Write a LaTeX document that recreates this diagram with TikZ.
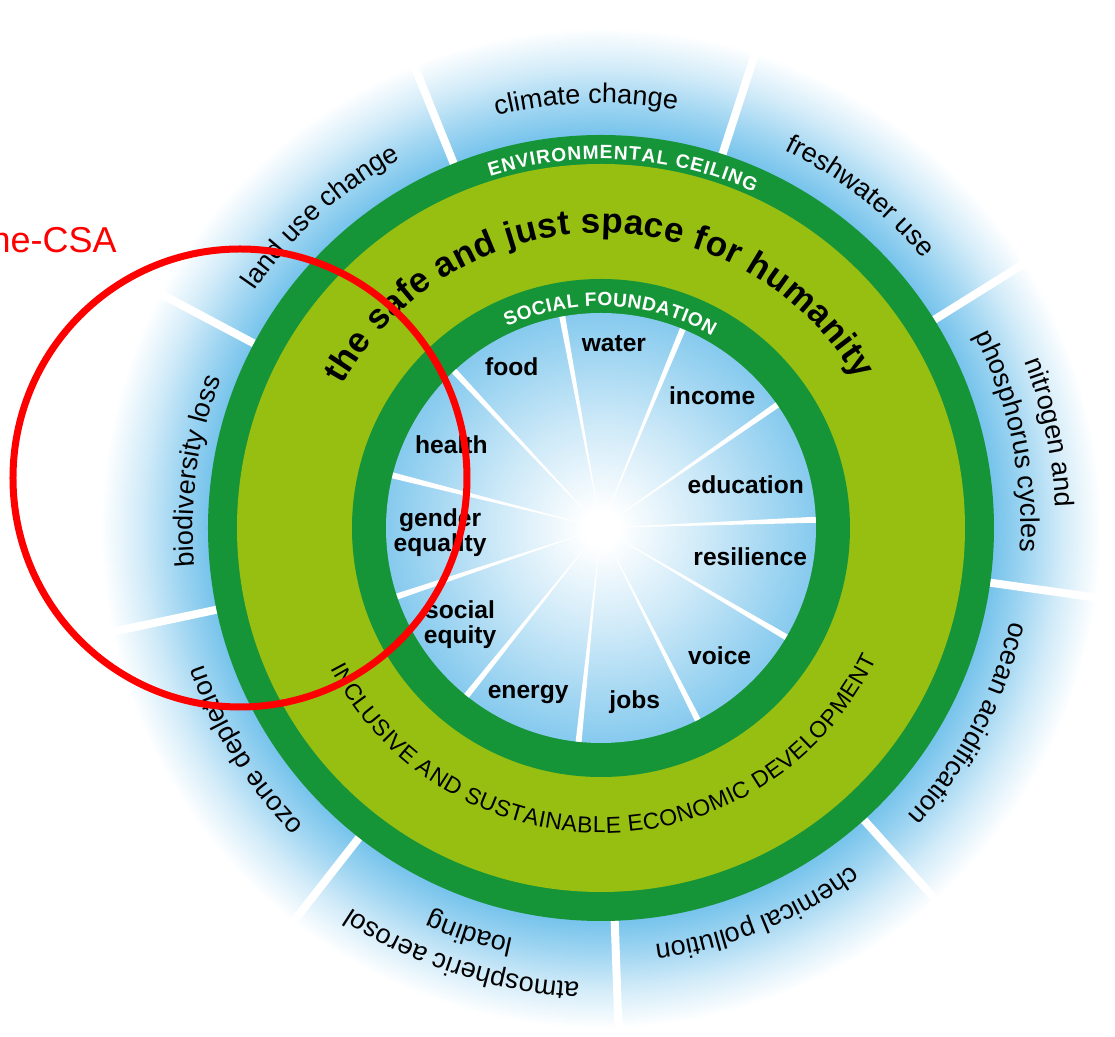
\documentclass[tikz,border=0pt]{standalone}
\usepackage{fontspec}
\setmainfont{Liberation Sans}
\usepackage{tikz}
\usetikzlibrary{decorations.text}

\definecolor{ringgreen}{RGB}{22,148,56}
\definecolor{spacelime}{RGB}{150,191,18}
\definecolor{skyblue}{RGB}{120,196,236}
\definecolor{hubblue}{RGB}{134,202,238}

\pgfdeclareradialshading{skyfade}{\pgfpointorigin}{color(0bp)=(skyblue); color(18.6bp)=(skyblue); color(20bp)=(skyblue!72!white); color(21.8bp)=(skyblue!32!white); color(23.6bp)=(white); color(50bp)=(white)}
\pgfdeclareradialshading{hubfade}{\pgfpointorigin}{color(0bp)=(white); color(2bp)=(white); color(12bp)=(hubblue!40!white); color(25bp)=(hubblue); color(50bp)=(hubblue)}

\newcommand{\boundfont}{\fontsize{13.5}{16}\selectfont}
\newcommand{\bandfont}{\fontsize{9.6}{11}\selectfont\bfseries\color{white}}
\newcommand{\titlefont}{\fontsize{17.5}{20}\selectfont\bfseries}
\newcommand{\econfont}{\fontsize{11.5}{14}\selectfont}

\begin{document}
\begin{tikzpicture}[x=0.5pt,y=0.5pt,
                    hublabel/.style={font=\fontsize{12.3}{12.5}\selectfont\bfseries, align=center, inner sep=0pt},
                    boundary/.style={decorate, decoration={text along path, text align=center, text={|\boundfont|#1}}},
                    bandtext/.style={decorate, decoration={text along path, text align=fit to path, text={|\bandfont|#1}}},
                    spoke/.style={white, line width=4pt}]
 \useasboundingbox (-601,-509) rectangle (514,528);
 \shade[shading=skyfade] (0,0) circle (530);
 \foreach \a in {112,72,...,-208} \draw[spoke] (\a:393) -- (\a:540);
 \fill[ringgreen] (0,0) circle (393);
 \fill[spacelime] (0,0) circle (364);
 \fill[ringgreen] (0,0) circle (249);
 \shade[shading=hubfade] (0,0) circle (215);
 \foreach \i [evaluate=\i as \a using 2.2+\i*360/11] in {0,...,10}
   \fill[white] (0,0) -- (\a-0.8:215) -- (\a+0.8:215) -- cycle;

 \path[boundary={climate change}] (112:425) arc[start angle=112, end angle=72, radius=425];
 \path[boundary={freshwater use}] (72:420) arc[start angle=72, end angle=32, radius=420];
 \path[boundary={nitrogen and}] (32:455) arc[start angle=32, end angle=-8, radius=455];
 \path[boundary={phosphorus cycles}] (32:420) arc[start angle=32, end angle=-8, radius=420];
 \path[boundary={ocean acidification}] (-8:420) arc[start angle=-8, end angle=-48, radius=420];
 \path[boundary={chemical pollution}] (-48:420) arc[start angle=-48, end angle=-88, radius=420];
 \path[boundary={atmospheric aerosol}] (-88:455) arc[start angle=-88, end angle=-128, radius=455];
 \path[boundary={loading}] (-88:420) arc[start angle=-88, end angle=-128, radius=420];
 \path[boundary={ozone depletion}] (-128:420) arc[start angle=-128, end angle=-168, radius=420];
 \path[boundary={biodiversity loss}] (192:408) arc[start angle=192, end angle=152, radius=408];
 \path[boundary={land use change}] (152:420) arc[start angle=152, end angle=112, radius=420];

 \path[bandtext={ENVIRONMENTAL CEILING}] (107.5:369) arc[start angle=107.5, end angle=65.5, radius=369];
 \path[bandtext={SOCIAL FOUNDATION}] (115:222) arc[start angle=115, end angle=60, radius=222];
 \path[decorate, decoration={text along path, text align=fit to path,
       text={|\titlefont|the safe and just space for humanity}}]
       (151:295) arc[start angle=151, end angle=30, radius=295];
 \path[decorate, decoration={text along path, text align=fit to path,
       text={|\econfont|INCLUSIVE AND SUSTAINABLE ECONOMIC DEVELOPMENT}}]
       (207.5:305) arc[start angle=207.5, end angle=334.5, radius=305];

 \node[hublabel] (water) at (86:185) {water};
 \node[hublabel] (income) at (50:173) {income};
 \node[hublabel] (education) at (16.5:151) {education};
 \node[hublabel] (resilience) at (-11:152) {resilience};
 \node[hublabel] (voice) at (-47:174) {voice};
 \node[hublabel] (jobs) at (-79:177) {jobs};
 \node[hublabel] (energy) at (246.4:182) {energy};
 \node[hublabel] (socialequity) at (214.5:171) {social\\equity};
 \node[hublabel] (genderequality) at (181.8:161) {gender\\equality};
 \node[hublabel] (health) at (151:171) {health};
 \node[hublabel] (food) at (119:184) {food};

 \draw[red, line width=3.5pt] (-361,50) ellipse [x radius=227, y radius=229];
 \node[text=red, font=\fontsize{18}{20}\selectfont, anchor=base east, inner sep=0pt] (csanote) at (-484,275) {ne-CSA};
\end{tikzpicture}
\end{document}
